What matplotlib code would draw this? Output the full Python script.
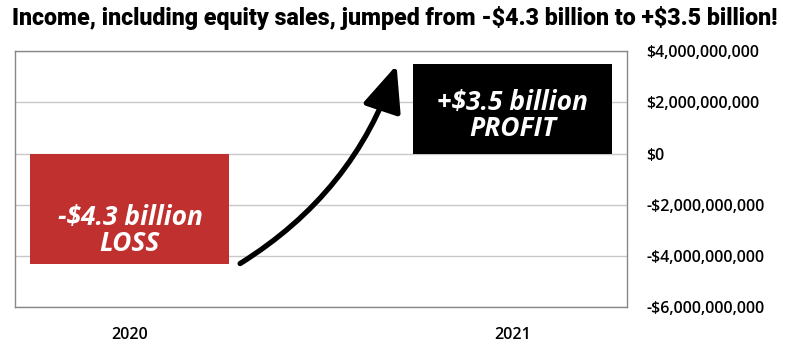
import matplotlib.pyplot as plt
from matplotlib.patches import FancyArrowPatch
from matplotlib.ticker import FuncFormatter

years = ["2020", "2021"]
income = [-4.3e9, 3.5e9]
bar_labels = ["-$4.3 billion\nLOSS", "+$3.5 billion\nPROFIT"]
bar_colors = ["#c0302f", "#000000"]
yticks = [-6e9, -4e9, -2e9, 0, 2e9, 4e9]

fig = plt.figure(figsize=(8, 3.55), dpi=100)
ax = fig.add_axes([0.019, 0.135, 0.765, 0.721])

x = range(len(years))
bars = ax.bar(x, income, width=0.52, color=bar_colors, zorder=2)

for b, lab, v in zip(bars, bar_labels, income):
  cx = b.get_x() + b.get_width() / 2
  shift = 0.85e9 if v < 0 else 0.25e9
  ax.text(cx, v / 2 - shift, lab, ha="center", va="center", color="white",
          fontsize=19, fontweight="bold", style="italic", family="Open Sans",
          linespacing=0.95, zorder=3)

ax.set_xlim(-0.3, 1.3)
ax.set_ylim(-6e9, 4e9)
ax.set_yticks(yticks)
ax.yaxis.tick_right()
ax.yaxis.set_major_formatter(FuncFormatter(lambda v, p: ("-$" if v < 0 else "$") + f"{abs(int(v)):,}"))
ax.set_xticks(list(x))
ax.set_xticklabels(years)
ax.tick_params(axis="both", length=0, labelsize=11.5, colors="#000000")
ax.tick_params(axis="y", pad=14)
ax.tick_params(axis="x", pad=14)
for t in ax.get_xticklabels() + ax.get_yticklabels():
  t.set_family("Open Sans")
  t.set_fontweight("semibold")

ax.grid(axis="y", color="#c8c8c8", linewidth=1, zorder=0)
for s in ax.spines.values():
  s.set_color("#888888")
  s.set_linewidth(1)

# curved arrow from the loss to the profit
arr = FancyArrowPatch((0.288, -4.3e9), (0.697, 3.45e9), connectionstyle="arc3,rad=0.18",
                      arrowstyle="-|>,head_length=28,head_width=12", color="black",
                      linewidth=3.8, zorder=4, shrinkA=0, shrinkB=0)
ax.add_patch(arr)

fig.text(0.494, 0.948, r"Income, including equity sales, jumped from -\$4.3 billion to +\$3.5 billion!",
         ha="center", va="center", fontsize=16.7, fontweight="black", family="Roboto")

fig.savefig("out.png", dpi=100)
